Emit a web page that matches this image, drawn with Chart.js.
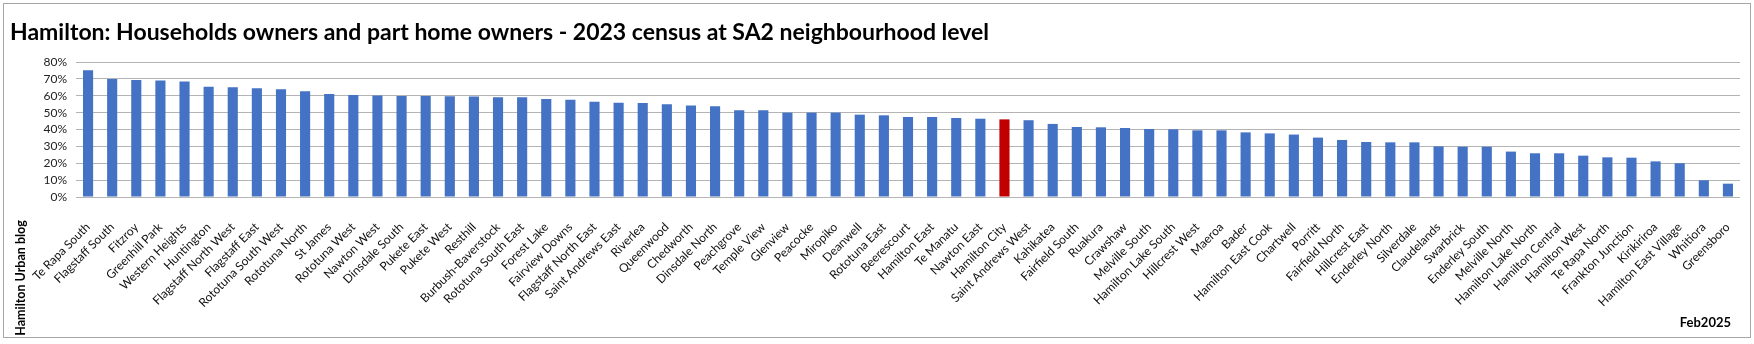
<!DOCTYPE html>
<html>
<head>
<meta charset="utf-8">
<script src="https://cdn.jsdelivr.net/npm/chart.js@4.4.1/dist/chart.umd.min.js"></script>
<style>
  html, body { margin: 0; padding: 0; background: #fff; }
  #wrap { width: 1754px; height: 344px; }
</style>
</head>
<body>
<div id="wrap"><canvas id="chart" width="1754" height="344"></canvas></div>
<script>
// SA2 neighbourhoods, sorted high to low
const suburbs = [
  "Te Rapa South", "Flagstaff South", "Fitzroy", "Greenhill Park", "Western Heights",
  "Huntington", "Flagstaff North West", "Flagstaff East", "Rototuna South West", "Rototuna North",
  "St James", "Rototuna West", "Nawton West", "Dinsdale South", "Pukete East",
  "Pukete West", "Resthill", "Burbush-Baverstock", "Rototuna South East", "Forest Lake",
  "Fairview Downs", "Flagstaff North East", "Saint Andrews East", "Riverlea", "Queenwood",
  "Chedworth", "Dinsdale North", "Peachgrove", "Temple View", "Glenview",
  "Peacocke", "Miropiko", "Deanwell", "Rototuna East", "Beerescourt",
  "Hamilton East", "Te Manatu", "Nawton East", "Hamilton City", "Saint Andrews West",
  "Kahikatea", "Fairfield South", "Ruakura", "Crawshaw", "Melville South",
  "Hamilton Lake South", "Hillcrest West", "Maeroa", "Bader", "Hamilton East Cook",
  "Chartwell", "Porritt", "Fairfield North", "Hillcrest East", "Enderley North",
  "Silverdale", "Claudelands", "Swarbrick", "Enderley South", "Melville North",
  "Hamilton Lake North", "Hamilton Central", "Hamilton West", "Te Rapa North", "Frankton Junction",
  "Kirikiriroa", "Hamilton East Village", "Whitiora", "Greensboro"
];

// % of households owning or part owning their home
const ownerShare = [
  75.1, 70.0, 69.4, 69.0, 68.4,
  65.4, 65.0, 64.4, 63.8, 62.6,
  61.1, 60.5, 60.1, 59.9, 59.9,
  59.7, 59.5, 59.1, 59.1, 58.1,
  57.7, 56.5, 55.9, 55.7, 54.9,
  54.2, 53.8, 51.4, 51.4, 50.0,
  50.0, 50.0, 48.8, 48.4, 47.4,
  47.4, 46.8, 46.4, 46.0, 45.5,
  43.3, 41.5, 41.3, 40.9, 40.3,
  40.1, 39.5, 39.5, 38.3, 37.7,
  37.0, 35.2, 33.8, 32.6, 32.4,
  32.4, 30.0, 29.8, 29.8, 26.9,
  25.9, 25.9, 24.5, 23.5, 23.3,
  21.1, 20.0, 9.9, 7.9
];

const cityTotal = "Hamilton City";
const yMax = 80;
const yStep = 10;

const titleText = "Hamilton: Households owners and part home owners - 2023 census at SA2 neighbourhood level";
const sideNote = "Hamilton Urban blog";
const dateNote = "Feb2025";

const FONT = "Lato, 'Open Sans', sans-serif";

const barColors = suburbs.map(s => s === cityTotal ? "#C00000" : "#4472C4");

// frame, white background and the two small notes
const framePlugin = {
  id: "frame",
  beforeDraw(chart) {
    const ctx = chart.ctx;
    ctx.save();
    ctx.fillStyle = "#fff";
    ctx.fillRect(0, 0, chart.width, chart.height);
    ctx.restore();
  },
  afterDraw(chart) {
    const ctx = chart.ctx;
    ctx.save();
    ctx.strokeStyle = "#A6A6A6";
    ctx.lineWidth = 1;
    ctx.strokeRect(3.5, 3.5, chart.width - 7, chart.height - 10);

    ctx.fillStyle = "#000";
    ctx.font = "bold 12.5px " + FONT;
    ctx.textAlign = "center";
    ctx.textBaseline = "middle";
    ctx.translate(21, 278);
    ctx.rotate(-Math.PI / 2);
    ctx.fillText(sideNote, 0, 0);
    ctx.restore();

    ctx.save();
    ctx.fillStyle = "#000";
    ctx.font = "bold 13px " + FONT;
    ctx.textAlign = "right";
    ctx.textBaseline = "middle";
    ctx.fillText(dateNote, 1731, 323);
    ctx.restore();
  }
};

new Chart(document.getElementById("chart"), {
  type: "bar",
  data: {
    labels: suburbs,
    datasets: [{
      data: ownerShare,
      backgroundColor: barColors,
      borderWidth: 0,
      categoryPercentage: 1.0,
      barPercentage: 0.42
    }]
  },
  options: {
    responsive: false,
    animation: false,
    devicePixelRatio: 1,
    layout: {
      padding: { top: 19, left: 10, right: 14, bottom: 0 }
    },
    plugins: {
      legend: { display: false },
      tooltip: { enabled: false },
      title: {
        display: true,
        text: titleText,
        align: "start",
        color: "#000",
        font: { family: FONT, size: 23, weight: "bold" },
        padding: { top: 0, bottom: 15.4 }
      }
    },
    scales: {
      x: {
        grid: { display: false },
        border: { display: false },
        ticks: {
          autoSkip: false,
          maxRotation: 45,
          minRotation: 45,
          padding: 15,
          color: "#111",
          font: { family: FONT, size: 12 }
        },
        afterFit(scale) { scale.height = 147; }
      },
      y: {
        min: 0,
        max: yMax,
        border: { display: false },
        grid: { color: "#B4B4B4", lineWidth: 1, drawTicks: false },
        ticks: {
          stepSize: yStep,
          autoSkip: false,
          padding: 9,
          color: "#222",
          font: { family: FONT, size: 12 },
          callback: v => v + "%"
        },
        afterFit(scale) { scale.width = 66; }
      }
    }
  },
  plugins: [framePlugin]
});
</script>
</body>
</html>
